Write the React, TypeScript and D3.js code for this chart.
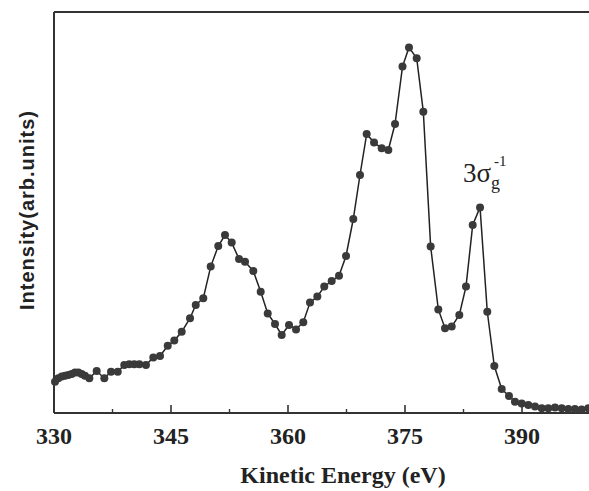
import React from "react";
import * as d3 from "d3";

const energy = [
  330.13, 330.55, 330.99, 331.41, 331.83, 332.27, 332.69, 333.12, 333.55, 333.97,
  334.53, 335.47, 336.45, 337.31, 338.17, 339.01, 339.65, 340.29, 340.94, 341.79,
  342.73, 343.59, 344.58, 345.42, 346.37, 347.44, 348.17, 349.14, 350.09, 351.06,
  351.92, 352.78, 353.72, 354.49, 355.55, 356.5, 357.4, 358.33, 359.19, 360.13,
  361.03, 361.96, 362.82, 363.76, 364.65, 365.6, 366.54, 367.44, 368.37, 369.23,
  370.09, 371.03, 372.01, 372.86, 373.72, 374.68, 375.51, 376.5, 377.35, 378.29,
  379.27, 380.13, 380.99, 381.96, 382.82, 383.68, 384.62, 385.55, 386.45, 387.4,
  388.33, 389.1, 389.96, 390.81, 391.67, 392.53, 393.37, 394.23, 395.09, 395.94,
  396.79, 397.65, 398.5,
];
const intensity = [
  7.8, 8.7, 9.1, 9.3, 9.5, 9.75, 10.1, 10.1, 9.75, 9.3,
  8.7, 10.5, 8.7, 10.3, 10.3, 12, 12.2, 12.2, 12.2, 12,
  13.9, 14.25, 16.8, 18.1, 20.3, 23.7, 27, 28.7, 36.6, 41.75,
  44.5, 42.6, 38.5, 37.8, 35.5, 30.3, 24.9, 22.25, 19.5, 22,
  20.9, 22.7, 27.6, 29.1, 31.6, 33, 34.3, 39.25, 48.5, 59.5,
  69.75, 67.6, 66.2, 65.75, 72.25, 86.6, 91.4, 88.7, 75.3, 41.6,
  25.9, 21.2, 21.6, 24.5, 31.6, 47, 51.4, 25.3, 11.75, 6,
  4.25, 2.8, 2.4, 2, 1.6, 1.2, 1.2, 1.4, 1.2, 1,
  1, 0.9, 1.2,
];
const majorTicks = [330, 345, 360, 375, 390];
const minorTicks = [337.5, 352.5, 367.5, 382.5, 397.5];

const xDomain = [330, 400];
const yDomain = [0, 100];

export default function App() {
  const W = 589, H = 491;
  const left = 54, right = 600, top = 12, bottom = 413;
  const x = d3.scaleLinear().domain(xDomain).range([left, right]);
  const y = d3.scaleLinear().domain(yDomain).range([bottom, top + 1]);
  const pts = energy.map((e, i) => [e, intensity[i]] as [number, number]);
  const line = d3.line<[number, number]>().x(d => x(d[0])).y(d => y(d[1]));
  const serif = "'Liberation Serif', 'Times New Roman', serif";
  const sans = "'Liberation Sans', Arial, sans-serif";
  return (
    <svg width={W} height={H} style={{ position: "absolute", left: 0, top: 0, background: "#fff" }}>
      <rect x={0} y={0} width={W} height={H} fill="#fff" />
      <line x1={left} y1={top} x2={right} y2={top} stroke="#333" strokeWidth={2} />
      <line x1={left} y1={top} x2={left} y2={bottom} stroke="#333" strokeWidth={2} />
      <line x1={left} y1={bottom} x2={right} y2={bottom} stroke="#333" strokeWidth={2} />
      {majorTicks.map(t => (
        <line key={"M" + t} x1={x(t)} x2={x(t)} y1={bottom} y2={bottom - 8} stroke="#333" strokeWidth={1.6} />
      ))}
      {minorTicks.map(t => (
        <line key={"m" + t} x1={x(t)} x2={x(t)} y1={bottom} y2={bottom - 4} stroke="#333" strokeWidth={1.4} />
      ))}
      {majorTicks.map(t => (
        <text key={"l" + t} x={x(t)} y={444} textAnchor="middle" fontFamily={serif} fontWeight="bold" fontSize={24} fill="#222">
          {t}
        </text>
      ))}
      <path d={line(pts) || ""} fill="none" stroke="#222" strokeWidth={1.5} />
      {pts.map((d, i) => (
        <circle key={i} cx={x(d[0])} cy={y(d[1])} r={4} fill="#3a3a3a" />
      ))}
      <text x={343} y={483} textAnchor="middle" fontFamily={serif} fontWeight="bold" fontSize={24} fill="#222">
        Kinetic Energy (eV)
      </text>
      <text transform="translate(34,210) rotate(-90)" textAnchor="middle" fontFamily={sans} fontWeight="bold" fontSize={20} letterSpacing={1} fill="#222">
        Intensity(arb.units)
      </text>
      <text x={463} y={182} fontFamily={serif} fontSize={27} fill="#222">
        3σ
        <tspan fontSize={18} dy={7}>g</tspan>
        <tspan fontSize={15} dx={-6} dy={-23}>-1</tspan>
      </text>
    </svg>
  );
}
